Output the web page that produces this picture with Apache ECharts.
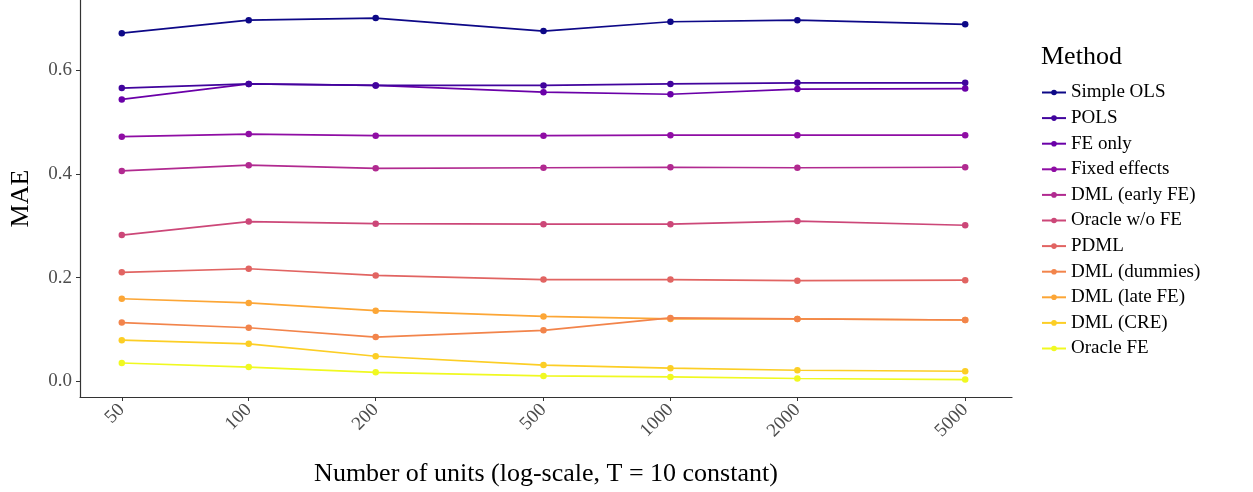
<!DOCTYPE html>
<html>
<head>
<meta charset="utf-8">
<script src="https://cdn.jsdelivr.net/npm/echarts@6/dist/echarts.min.js"></script>
<style>
  html, body { margin: 0; padding: 0; background: #fff; }
  #chart { width: 1253px; height: 492px; }
</style>
</head>
<body>
<div id="chart"></div>
<script>
var units = [50, 100, 200, 500, 1000, 2000, 5000]
var yTicks = [0, 0.2, 0.4, 0.6]

var methods = ['Simple OLS', 'POLS', 'FE only', 'Fixed effects', 'DML (early FE)', 'Oracle w/o FE',
    'PDML', 'DML (dummies)', 'DML (late FE)', 'DML (CRE)', 'Oracle FE']
var colors = ['#0d0887', '#41049d', '#6a00a8', '#8f0da4', '#b12a90', '#cc4778',
    '#e16462', '#f2844b', '#fca636', '#fcce25', '#f0f921']

var simpleOLS   = [0.672, 0.697, 0.701, 0.676, 0.694, 0.697, 0.689]
var pols        = [0.566, 0.574, 0.571, 0.571, 0.574, 0.576, 0.576]
var feOnly      = [0.544, 0.574, 0.571, 0.558, 0.554, 0.564, 0.565]
var fixedEff    = [0.472, 0.477, 0.474, 0.474, 0.475, 0.475, 0.475]
var dmlEarly    = [0.406, 0.417, 0.411, 0.412, 0.413, 0.412, 0.413]
var oracleNoFE  = [0.282, 0.308, 0.304, 0.303, 0.303, 0.309, 0.301]
var pdml        = [0.210, 0.217, 0.204, 0.196, 0.196, 0.194, 0.195]
var dmlDummies  = [0.113, 0.103, 0.085, 0.098, 0.122, 0.120, 0.118]
var dmlLate     = [0.159, 0.151, 0.136, 0.125, 0.120, 0.120, 0.118]
var dmlCRE      = [0.079, 0.072, 0.048, 0.031, 0.025, 0.021, 0.019]
var oracleFE    = [0.035, 0.027, 0.017, 0.010, 0.008, 0.005, 0.003]

var values = [simpleOLS, pols, feOnly, fixedEff, dmlEarly, oracleNoFE,
    pdml, dmlDummies, dmlLate, dmlCRE, oracleFE]

var font = 'Liberation Serif'

var series = methods.map(function (m, i) {
    return {
        name: m,
        type: 'line',
        data: units.map(function (u, j) { return [u, values[i][j]] }),
        symbol: 'circle',
        symbolSize: 6.5,
        showSymbol: true,
        lineStyle: { width: 1.7, color: colors[i] },
        itemStyle: { color: colors[i] },
        z: 20 - i
    }
})

var chart = echarts.init(document.getElementById('chart'))
var option = {
    animation: false,
    textStyle: { fontFamily: font },
    title: {
        text: 'Method',
        left: 1036,
        top: 39,
        textStyle: { fontFamily: font, fontSize: 26, fontWeight: 'normal', color: '#000' }
    },
    legend: {
        orient: 'vertical',
        left: 1036,
        top: 78,
        itemWidth: 24,
        itemHeight: 7,
        itemGap: 6.6,
        data: methods,
        textStyle: { fontFamily: font, fontSize: 19, color: '#000' }
    },
    grid: { left: 79, right: 241, top: 0, bottom: 92 },
    xAxis: {
        type: 'log',
        min: 39.8,
        max: 6456,
        name: 'Number of units (log-scale, T = 10 constant)',
        nameLocation: 'middle',
        nameGap: 64,
        nameTextStyle: { fontFamily: font, fontSize: 26, color: '#000' },
        axisLine: { onZero: false, lineStyle: { color: '#333', width: 1.2 } },
        axisTick: { customValues: units, length: 4, lineStyle: { color: '#333' } },
        axisLabel: {
            customValues: units,
            rotate: 45,
            fontFamily: font,
            fontSize: 19,
            color: '#4d4d4d',
            margin: 10,
            formatter: function (v) { return String(Math.round(v)) }
        },
        splitLine: { show: false },
        minorTick: { show: false }
    },
    yAxis: {
        type: 'value',
        min: -0.0307,
        max: 0.736,
        name: 'MAE',
        nameLocation: 'middle',
        nameGap: 46,
        nameTextStyle: { fontFamily: font, fontSize: 26, color: '#000' },
        axisLine: { show: true, lineStyle: { color: '#333', width: 1.2 } },
        axisTick: { show: true, customValues: yTicks, length: 4, lineStyle: { color: '#333' } },
        axisLabel: {
            customValues: yTicks,
            fontFamily: font,
            fontSize: 19,
            color: '#4d4d4d',
            margin: 8,
            formatter: function (v) { return v.toFixed(1) }
        },
        splitLine: { show: false }
    },
    series: series
}
chart.setOption(option)
</script>
</body>
</html>
